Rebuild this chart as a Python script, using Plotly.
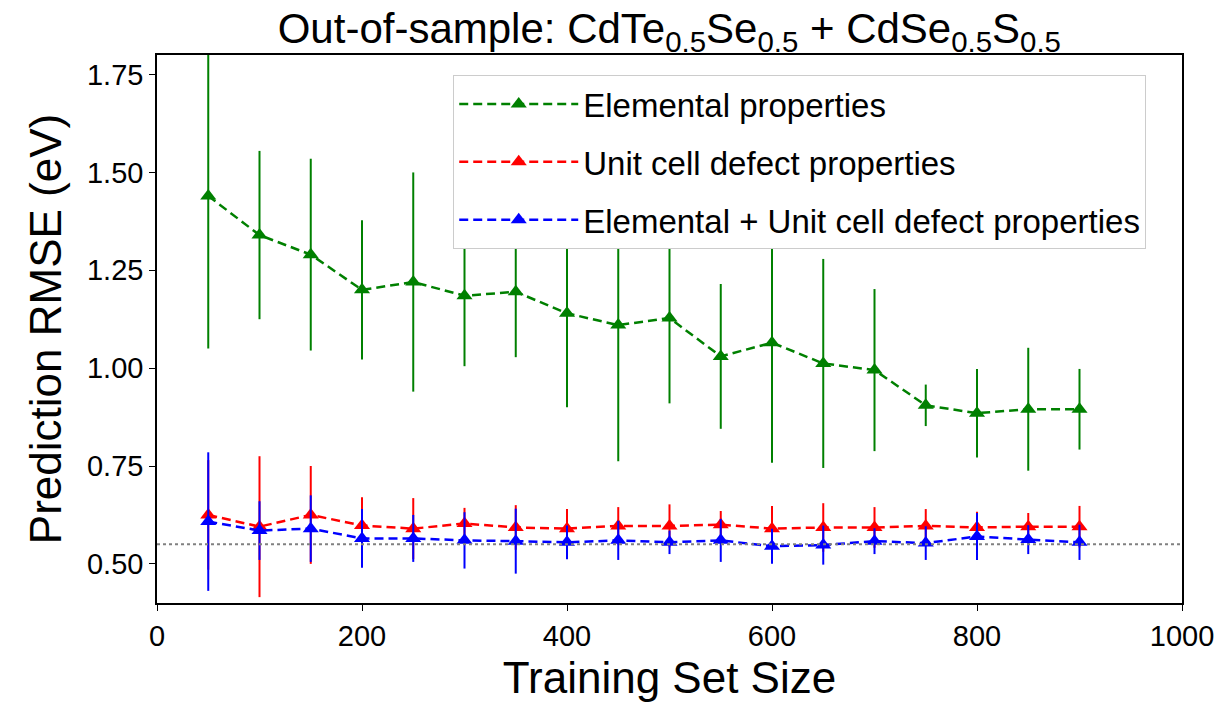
import plotly.graph_objects as go

train_size = [50, 100, 150, 200, 250, 300, 350, 400, 450, 500, 550, 600, 650, 700, 750, 800, 850, 900]

elem_rmse = [1.44, 1.34, 1.29, 1.20, 1.22, 1.185, 1.195, 1.14, 1.11, 1.128, 1.03, 1.065, 1.012, 0.995, 0.905, 0.885, 0.895, 0.895]
elem_err = [0.39, 0.215, 0.245, 0.178, 0.28, 0.18, 0.167, 0.24, 0.348, 0.218, 0.185, 0.307, 0.267, 0.207, 0.053, 0.113, 0.157, 0.103]

ucd_rmse = [0.625, 0.595, 0.625, 0.598, 0.59, 0.603, 0.593, 0.59, 0.597, 0.597, 0.60, 0.59, 0.593, 0.593, 0.597, 0.593, 0.595, 0.595]
ucd_err = [0.14, 0.18, 0.125, 0.072, 0.078, 0.04, 0.057, 0.05, 0.048, 0.055, 0.035, 0.058, 0.062, 0.052, 0.043, 0.04, 0.035, 0.053]

both_rmse = [0.608, 0.585, 0.59, 0.565, 0.565, 0.56, 0.558, 0.555, 0.56, 0.555, 0.56, 0.545, 0.548, 0.558, 0.553, 0.57, 0.562, 0.555]
both_err = [0.177, 0.075, 0.085, 0.075, 0.06, 0.072, 0.083, 0.043, 0.05, 0.03, 0.055, 0.045, 0.05, 0.033, 0.043, 0.06, 0.037, 0.045]

baseline = 0.55

series = [
    ("Elemental properties", elem_rmse, elem_err, "green"),
    ("Unit cell defect properties", ucd_rmse, ucd_err, "red"),
    ("Elemental + Unit cell defect properties", both_rmse, both_err, "blue"),
]

FONT = "Liberation Sans Narrow, Liberation Sans, Arial, sans-serif"

fig = go.Figure()
for i, (name, y, e, c) in enumerate(series):
    fig.add_trace(go.Scatter(
        x=train_size, y=y, name=name, mode="lines+markers", legendgroup=f"g{i}",
        line=dict(color=c, width=2.5, dash="9px,5px"),
        marker=dict(symbol="triangle-up", size=14, color=c),
        error_y=dict(type="data", array=e, visible=True, color=c, thickness=2, width=0),
    ))

fig.add_hline(y=baseline, line=dict(color="gray", width=2, dash="dot"))

fig.update_layout(
    width=1227, height=707,
    margin=dict(l=157, r=45, t=55, b=104),
    paper_bgcolor="white", plot_bgcolor="white",
    font=dict(family=FONT, color="black"),
    title=dict(text="Out-of-sample: CdTe<sub>0.5</sub>Se<sub>0.5</sub> + CdSe<sub>0.5</sub>S<sub>0.5</sub>",
               x=0.5455, xanchor="center", y=0.96, yanchor="middle", font=dict(size=42, family=FONT)),
    xaxis=dict(range=[0, 1000], tickvals=[0, 200, 400, 600, 800, 1000], showgrid=False, zeroline=False,
               showline=True, linecolor="black", linewidth=1.5, mirror=True,
               ticks="outside", ticklen=6, tickcolor="black", tickfont=dict(size=29),
               title=dict(text="Training Set Size", font=dict(size=44), standoff=12)),
    yaxis=dict(range=[0.4, 1.8], tickvals=[0.5, 0.75, 1.0, 1.25, 1.5, 1.75],
               ticktext=["0.50", "0.75", "1.00", "1.25", "1.50", "1.75"], showgrid=False, zeroline=False,
               showline=True, linecolor="black", linewidth=1.5, mirror=True,
               ticks="outside", ticklen=6, tickcolor="black", tickfont=dict(size=29),
               title=dict(text="Prediction RMSE (eV)", font=dict(size=44), standoff=12)),
    legend=dict(x=0.289, y=0.9635, xanchor="left", yanchor="top", bgcolor="white",
                bordercolor="#cccccc", borderwidth=1, font=dict(size=33, family=FONT),
                itemwidth=119, tracegroupgap=12),
    showlegend=True,
)

fig.write_html("out.html")
